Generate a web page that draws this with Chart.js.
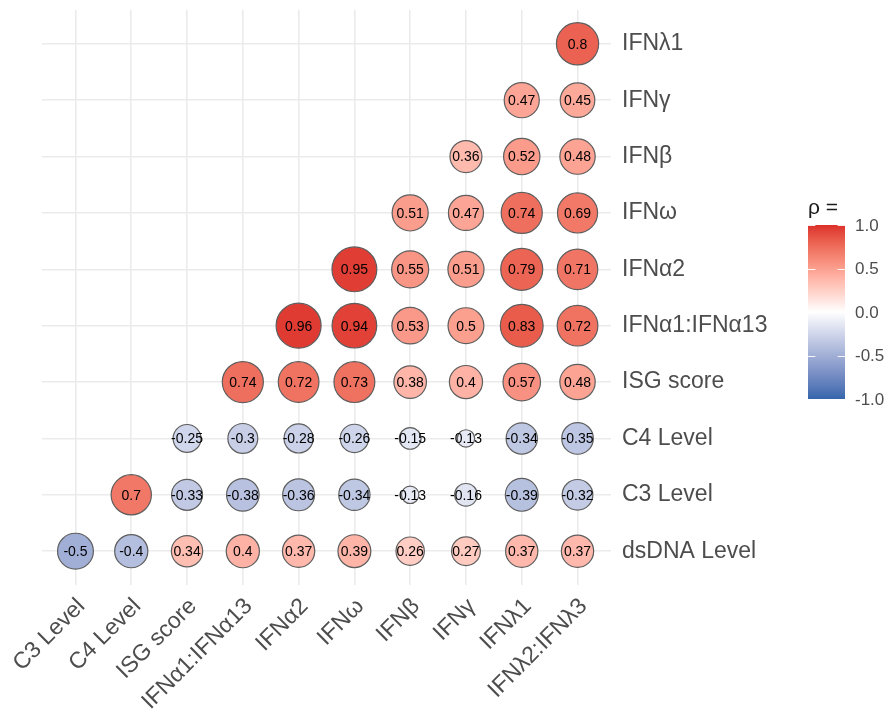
<!DOCTYPE html>
<html>
<head>
<meta charset="utf-8">
<script src="https://cdn.jsdelivr.net/npm/chart.js@4.4.1/dist/chart.umd.min.js"></script>
<style>
  html, body { margin: 0; padding: 0; background: #ffffff; }
  #wrap { width: 885px; height: 711px; }
</style>
</head>
<body>
<div id="wrap"><canvas id="c" width="885" height="711"></canvas></div>
<script>
// Variables along the bottom (left to right)
const xLabels = ['C3 Level', 'C4 Level', 'ISG score', 'IFNα1:IFNα13', 'IFNα2', 'IFNω', 'IFNβ', 'IFNγ', 'IFNλ1', 'IFNλ2:IFNλ3'];
// Variables along the right side (bottom to top)
const yLabels = ['dsDNA Level', 'C3 Level', 'C4 Level', 'ISG score', 'IFNα1:IFNα13', 'IFNα2', 'IFNω', 'IFNβ', 'IFNγ', 'IFNλ1'];

// Spearman correlations, one array per row, aligned with xLabels (null = not shown)
const rowDsDNA  = [-0.5, -0.4, 0.34, 0.4, 0.37, 0.39, 0.26, 0.27, 0.37, 0.37];
const rowC3     = [null, 0.7, -0.33, -0.38, -0.36, -0.34, -0.13, -0.16, -0.39, -0.32];
const rowC4     = [null, null, -0.25, -0.3, -0.28, -0.26, -0.15, -0.13, -0.34, -0.35];
const rowISG    = [null, null, null, 0.74, 0.72, 0.73, 0.38, 0.4, 0.57, 0.48];
const rowIFNa1  = [null, null, null, null, 0.96, 0.94, 0.53, 0.5, 0.83, 0.72];
const rowIFNa2  = [null, null, null, null, null, 0.95, 0.55, 0.51, 0.79, 0.71];
const rowIFNw   = [null, null, null, null, null, null, 0.51, 0.47, 0.74, 0.69];
const rowIFNb   = [null, null, null, null, null, null, null, 0.36, 0.52, 0.48];
const rowIFNg   = [null, null, null, null, null, null, null, null, 0.47, 0.45];
const rowIFNl1  = [null, null, null, null, null, null, null, null, null, 0.8];
const rows = [rowDsDNA, rowC3, rowC4, rowISG, rowIFNa1, rowIFNa2, rowIFNw, rowIFNb, rowIFNg, rowIFNl1];

// Colour-bar breaks
const legendTicks = [1.0, 0.5, 0.0, -0.5, -1.0];
const legendTickText = ['1.0', '0.5', '0.0', '-0.5', '-1.0'];

// Diverging palette endpoints
const lowColor = '#3566AD', midColor = '#FFFFFF', highColor = '#DC2F2B';

// --- CIELAB interpolation for the diverging scale ---
function hexToRgb(h) { h = h.replace('#', ''); return [0, 2, 4].map(i => parseInt(h.substr(i, 2), 16)); }
function toLin(c) { c /= 255; return c <= 0.04045 ? c / 12.92 : Math.pow((c + 0.055) / 1.055, 2.4); }
function fromLin(c) { c = c <= 0.0031308 ? 12.92 * c : 1.055 * Math.pow(c, 1 / 2.4) - 0.055; return Math.round(Math.max(0, Math.min(1, c)) * 255); }
const XN = 0.95047, YN = 1.0, ZN = 1.08883;
function rgbToLab(rgb) {
  const R = toLin(rgb[0]), G = toLin(rgb[1]), B = toLin(rgb[2]);
  const X = (0.4124564 * R + 0.3575761 * G + 0.1804375 * B) / XN;
  const Y = (0.2126729 * R + 0.7151522 * G + 0.0721750 * B) / YN;
  const Z = (0.0193339 * R + 0.1191920 * G + 0.9503041 * B) / ZN;
  const f = t => t > 0.008856 ? Math.cbrt(t) : 7.787 * t + 16 / 116;
  const fx = f(X), fy = f(Y), fz = f(Z);
  return [116 * fy - 16, 500 * (fx - fy), 200 * (fy - fz)];
}
function labToRgb(lab) {
  const fy = (lab[0] + 16) / 116, fx = fy + lab[1] / 500, fz = fy - lab[2] / 200;
  const inv = t => { const t3 = t * t * t; return t3 > 0.008856 ? t3 : (t - 16 / 116) / 7.787; };
  const X = inv(fx) * XN, Y = inv(fy) * YN, Z = inv(fz) * ZN;
  const R = 3.2404542 * X - 1.5371385 * Y - 0.4985314 * Z;
  const G = -0.9692660 * X + 1.8760108 * Y + 0.0415560 * Z;
  const B = 0.0556434 * X - 0.2040259 * Y + 1.0572252 * Z;
  return [fromLin(R), fromLin(G), fromLin(B)];
}
const labLow = rgbToLab(hexToRgb(lowColor)), labMid = rgbToLab(hexToRgb(midColor)), labHigh = rgbToLab(hexToRgb(highColor));
function colorFor(v) {
  const a = v < 0 ? labLow : labHigh;
  const s = Math.min(1, Math.abs(v));
  const lab = [0, 1, 2].map(i => labMid[i] + (a[i] - labMid[i]) * s);
  const c = labToRgb(lab);
  return `rgb(${c[0]},${c[1]},${c[2]})`;
}

// Points for the scatter layer
const points = [];
rows.forEach((row, yi) => row.forEach((v, xi) => { if (v !== null) points.push({ x: xi, y: yi, v: v }); }));

// Circle size: area grows with |rho| between the smallest and largest magnitudes
const absVals = points.map(p => Math.abs(p.v));
const absMin = Math.min(...absVals), absMax = Math.max(...absVals);
function radiusFor(v) {
  const t = (Math.abs(v) - absMin) / (absMax - absMin);
  const size = 4 + 6 * Math.sqrt(t);      // 4..10
  return size * 4.6 / 2 - 0.5;
}

const FONT = "'Liberation Sans', Arial, Helvetica, sans-serif";

// Writes the value inside each circle
const valueLabels = {
  id: 'valueLabels',
  afterDatasetsDraw(chart) {
    const ctx = chart.ctx;
    const meta = chart.getDatasetMeta(0);
    ctx.save();
    ctx.font = `14px ${FONT}`;
    ctx.fillStyle = '#000000';
    ctx.textAlign = 'center';
    ctx.textBaseline = 'middle';
    meta.data.forEach((el, i) => {
      const p = points[i];
      ctx.fillText(String(p.v), el.x, el.y + 1);
    });
    ctx.restore();
  }
};

// Colour bar on the right
const colorBar = {
  id: 'colorBar',
  afterDraw(chart) {
    const ctx = chart.ctx;
    const left = 808, right = 845, top = 225, bottom = 399;
    const yOf = v => top + (1 - v) / 2 * (bottom - top);
    ctx.save();
    for (let y = top; y < bottom; y++) {
      const v = 1 - ((y + 0.5 - top) / (bottom - top)) * 2;
      ctx.fillStyle = colorFor(v);
      ctx.fillRect(left, y, right - left, 1);
    }
    ctx.strokeStyle = 'rgba(255,255,255,0.9)';
    ctx.lineWidth = 1;
    const tl = (right - left) / 5;
    legendTicks.forEach(v => {
      const y = Math.round(yOf(v)) + 0.5;
      ctx.beginPath();
      ctx.moveTo(left, y); ctx.lineTo(left + tl, y);
      ctx.moveTo(right - tl, y); ctx.lineTo(right, y);
      ctx.stroke();
    });
    ctx.fillStyle = '#4D4D4D';
    ctx.font = `17px ${FONT}`;
    ctx.textAlign = 'left';
    ctx.textBaseline = 'middle';
    legendTicks.forEach((v, i) => ctx.fillText(legendTickText[i], 855, yOf(v) + 1));
    ctx.fillStyle = '#1A1A1A';
    ctx.font = `21px ${FONT}`;
    ctx.textBaseline = 'alphabetic';
    ctx.fillText('ρ =', 808, 214);
    ctx.restore();
  }
};

const gridOpts = { color: '#EBEBEB', lineWidth: 1.6, drawTicks: false };

new Chart(document.getElementById('c'), {
  type: 'scatter',
  data: {
    datasets: [{
      data: points,
      backgroundColor: c => colorFor(c.raw.v),
      borderColor: '#5E5E5E',
      borderWidth: 1.2,
      pointRadius: c => radiusFor(c.raw.v),
      pointHoverRadius: c => radiusFor(c.raw.v),
      clip: false
    }]
  },
  options: {
    responsive: false,
    animation: false,
    devicePixelRatio: 1,
    layout: { autoPadding: false, padding: { left: 42, top: 10, right: 0, bottom: 0 } },
    plugins: { legend: { display: false }, tooltip: { enabled: false } },
    scales: {
      x: {
        type: 'linear', min: -0.6, max: 9.6,
        afterBuildTicks: axis => { axis.ticks = xLabels.map((_, i) => ({ value: i })); },
        afterFit: axis => { axis.height = 126; axis.paddingLeft = 0; axis.paddingRight = 0; },
        ticks: {
          callback: v => xLabels[v],
          autoSkip: false, maxRotation: 45, minRotation: 45,
          color: '#4D4D4D', font: { family: FONT, size: 23 }, padding: 8, labelOffset: 6
        },
        grid: gridOpts,
        border: { display: false }
      },
      y: {
        type: 'linear', position: 'right', min: -0.6, max: 9.6,
        afterBuildTicks: axis => { axis.ticks = yLabels.map((_, i) => ({ value: i })); },
        afterFit: axis => { axis.width = 274; axis.paddingTop = 0; axis.paddingBottom = 0; },
        ticks: {
          callback: v => yLabels[v],
          autoSkip: false,
          color: '#4D4D4D', font: { family: FONT, size: 23 }, padding: 11
        },
        grid: gridOpts,
        border: { display: false }
      }
    }
  },
  plugins: [valueLabels, colorBar]
});
</script>
</body>
</html>
